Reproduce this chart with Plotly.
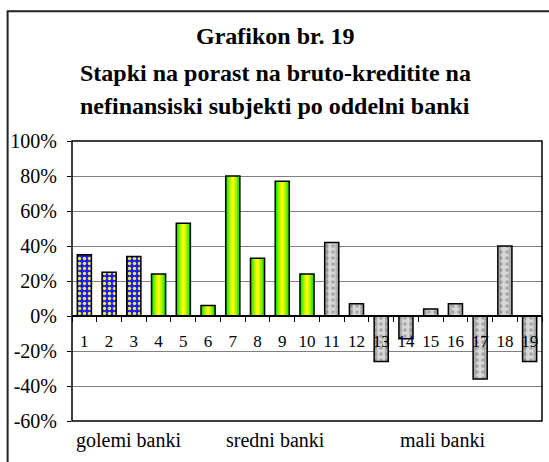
import plotly.graph_objects as go

# data (growth rate, %)
banks = [str(i) for i in range(1, 20)]
growth = [35, 25, 34, 24, 53, 6, 80, 33, 77, 24, 42, 7, -26, -13, 4, 7, -36, 40, -26]
large_idx = [0, 1, 2]
medium_idx = [3, 4, 5, 6, 7, 8, 9]
small_idx = [10, 11, 12, 13, 14, 15, 16, 17, 18]

title_lines = ["Grafikon br. 19",
               "Stapki na porast na bruto-kreditite na",
               "nefinansiski subjekti po oddelni banki"]
group_labels = ["golemi banki", "sredni banki", "mali banki"]
y_ticks = [-60, -40, -20, 0, 20, 40, 60, 80, 100]

serif = "Liberation Serif, Times New Roman, serif"
BAR_W = 0.57


def pick(idx):
    return [banks[i] for i in idx], [growth[i] for i in idx]


fig = go.Figure()

# large banks: blue with yellow dots
x, y = pick(large_idx)
fig.add_trace(go.Bar(
    x=x, y=y, width=BAR_W,
    marker=dict(color="#1a1aff",
                line=dict(color="black", width=1.5),
                pattern=dict(shape=".", fgcolor="#f0f040", bgcolor="#1a1aff",
                             size=5, solidity=0.35, fillmode="replace")),
))

# medium banks: green -> yellow gradient faked with narrowing layers
x, y = pick(medium_idx)
layers = [(BAR_W, "#11e400"), (0.45, "#55ec00"), (0.33, "#99f400"),
          (0.21, "#ccf900"), (0.1, "#ffff00")]
for w, c in layers:
    fig.add_trace(go.Bar(x=x, y=y, width=w,
                         marker=dict(color=c, line=dict(width=0))))
fig.add_trace(go.Bar(x=x, y=y, width=BAR_W,
                     marker=dict(color="rgba(0,0,0,0)",
                                 line=dict(color="black", width=1.5))))

# small banks: grey texture
x, y = pick(small_idx)
fig.add_trace(go.Bar(x=x, y=y, width=BAR_W,
                     marker=dict(color="#b0b0b0", line=dict(width=0))))
fig.add_trace(go.Bar(x=x, y=y, width=0.3,
                     marker=dict(color="#d8d8d8", line=dict(width=0))))
fig.add_trace(go.Bar(
    x=x, y=y, width=BAR_W,
    marker=dict(color="rgba(0,0,0,0)",
                line=dict(color="black", width=1.5),
                pattern=dict(shape=".", fgcolor="#777777", bgcolor="rgba(0,0,0,0)",
                             size=6, solidity=0.3, fillmode="overlay")),
))

fig.update_traces(hoverinfo="skip")

fig.update_layout(
    width=549, height=462,
    margin=dict(l=72, r=7, t=141, b=41),
    paper_bgcolor="white", plot_bgcolor="white",
    showlegend=False, barmode="overlay",
    font=dict(family=serif, color="black"),
    xaxis=dict(type="category", categoryorder="array", categoryarray=banks,
               anchor="free", position=60 / 160,
               showline=True, linecolor="black", linewidth=1.5,
               ticks="outside", tickson="boundaries", ticklen=5,
               tickcolor="black", tickwidth=1, tickangle=0,
               tickfont=dict(family=serif, size=17, color="black"),
               ticklabelstandoff=10, showgrid=False, zeroline=False),
    yaxis=dict(range=[-60, 100], tickvals=y_ticks,
               ticktext=[f"{v}%" for v in y_ticks],
               showgrid=True, gridcolor="#808080", gridwidth=1,
               zeroline=False, showline=False,
               ticks="outside", ticklen=4, tickcolor="black",
               tickfont=dict(family=serif, size=20, color="black"),
               ticklabelstandoff=6),
)

# plot-area border
fig.add_shape(type="rect", xref="paper", yref="paper", x0=0, x1=1, y0=0, y1=1,
              line=dict(color="black", width=1.5), layer="above")
# outer chart frame (right and bottom sides fall outside the image)
fig.add_shape(type="rect", xref="paper", yref="paper",
              x0=-0.137, x1=1.05, y0=-0.2, y1=1.463,
              line=dict(color="#222222", width=2))

# title lines
for txt, yy in zip(title_lines, [1.374, 1.242, 1.125]):
    fig.add_annotation(text="<b>" + txt + "</b>", xref="paper", yref="paper",
                       x=0.432, y=yy, xanchor="center", yanchor="middle",
                       showarrow=False,
                       font=dict(family=serif, size=24, color="black"))

# bank-size group labels under the plot
for txt, xx in zip(group_labels, [0.121, 0.434, 0.789]):
    fig.add_annotation(text=txt, xref="paper", yref="paper",
                       x=xx, y=-0.068, xanchor="center", yanchor="middle",
                       showarrow=False,
                       font=dict(family=serif, size=20, color="black"))

# the page's default body margin would shift the chart by 8px
fig.write_html("out.html", config={"displayModeBar": False},
               post_script="document.body.style.margin='0';")
